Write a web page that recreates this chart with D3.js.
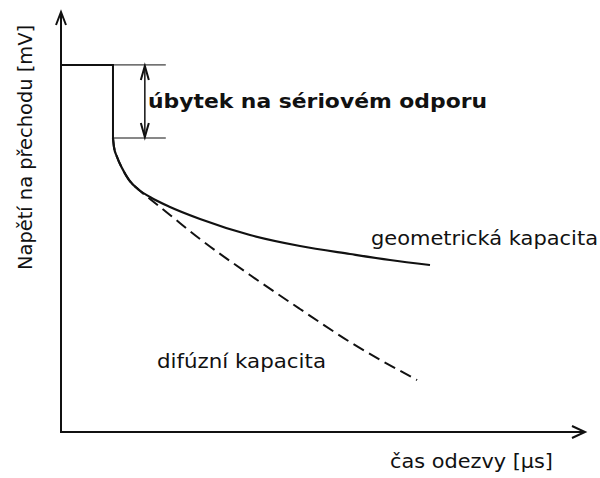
<!DOCTYPE html>
<html>
<head>
<meta charset="utf-8">
<style>
  body { margin: 0; background: #fff; }
  svg text { font-family: "DejaVu Sans", sans-serif; fill: #111; }
</style>
</head>
<body>
<div id="chart"></div>
<script src="https://d3js.org/d3.v7.min.js"></script>
<script>
// schematic units: time 0..100, voltage 0..100
const levelX = [0, 9.92];
const levelY = 87.4;
const dropY = 70;
const markEndX = 20;
const arrowX = 16;

const geomX = [9.92, 10.11, 10.69, 11.64, 12.98, 14.89, 16.98, 20.80, 26.53, 36.07, 45.61, 55.15, 62.79, 70.42];
const geomY = [70.0, 67.86, 65.48, 62.86, 60.0, 57.62, 55.95, 53.57, 50.71, 46.90, 44.29, 42.38, 40.95, 39.76];

const difX = [9.92, 10.11, 10.69, 11.64, 12.98, 14.89, 16.98, 20.80, 26.53, 36.07, 45.61, 55.15, 67.94];
const difY = [70.0, 67.86, 65.48, 62.86, 60.0, 57.62, 55.48, 51.67, 45.95, 37.38, 29.29, 21.43, 12.38];

const labels = {
  y: "Napětí na přechodu [mV]",
  x: "čas odezvy [µs]",
  drop: "úbytek na sériovém odporu",
  geom: "geometrická kapacita",
  dif: "difúzní kapacita"
};

const width = 600, height = 478;
const svg = d3.select("#chart").append("svg")
  .attr("width", width).attr("height", height);

const x = d3.scaleLinear().domain([0, 100]).range([61, 585]);
const y = d3.scaleLinear().domain([0, 100]).range([432, 12]);

const line = d3.line().x(d => x(d[0])).y(d => y(d[1])).curve(d3.curveMonotoneX);

// osy
svg.append("path")
  .attr("d", `M${x(0)},${y(100)} L${x(0)},${y(0)} L${x(100)},${y(0)}`)
  .attr("fill", "none").attr("stroke", "#111").attr("stroke-width", 2);

function arrowHead(px, py, dir, len, half) {
  let pts;
  if (dir === "up") pts = [[px - half, py + len], [px, py], [px + half, py + len]];
  else if (dir === "down") pts = [[px - half, py - len], [px, py], [px + half, py - len]];
  else pts = [[px - len, py - half], [px, py], [px - len, py + half]];
  svg.append("path")
    .attr("d", d3.line()(pts))
    .attr("fill", "none").attr("stroke", "#111").attr("stroke-width", 2);
}
arrowHead(x(0), y(100), "up", 13, 5);
arrowHead(x(100), y(0), "right", 13, 6);

// vodorovná úroveň a skok
svg.append("path")
  .attr("d", `M${x(levelX[0])},${y(levelY)} L${x(levelX[1])},${y(levelY)} L${x(levelX[1])},${y(dropY)}`)
  .attr("fill", "none").attr("stroke", "#111").attr("stroke-width", 2);

// tenké značky
[levelY, dropY].forEach(v => {
  svg.append("line")
    .attr("x1", x(levelX[1])).attr("x2", x(markEndX))
    .attr("y1", y(v)).attr("y2", y(v))
    .attr("stroke", "#111").attr("stroke-width", 1);
});

// dvojitá šipka
svg.append("line")
  .attr("x1", x(arrowX)).attr("x2", x(arrowX))
  .attr("y1", y(levelY) + 1).attr("y2", y(dropY) - 1)
  .attr("stroke", "#111").attr("stroke-width", 1.5);
arrowHead(x(arrowX), y(levelY) + 1, "up", 14, 4);
arrowHead(x(arrowX), y(dropY) - 1, "down", 14, 4);

// křivky
svg.append("path")
  .attr("d", line(difX.map((v, i) => [v, difY[i]])))
  .attr("fill", "none").attr("stroke", "#111").attr("stroke-width", 2)
  .attr("stroke-dasharray", "12,6");
svg.append("path")
  .attr("d", line(geomX.map((v, i) => [v, geomY[i]])))
  .attr("fill", "none").attr("stroke", "#111").attr("stroke-width", 2.2);

// popisky
function label(tx, ty, txt, len, bold) {
  return svg.append("text").attr("x", tx).attr("y", ty)
    .attr("textLength", len).attr("lengthAdjust", "spacingAndGlyphs")
    .style("font-size", "20px").style("font-weight", bold ? "bold" : "normal")
    .text(txt);
}
label(148, 108, labels.drop, 339, true);
label(371, 245, labels.geom, 227);
label(157, 368, labels.dif, 169);
label(390, 468, labels.x, 163);
svg.append("text")
  .attr("transform", "translate(32,270) rotate(-90)")
  .attr("textLength", 245).attr("lengthAdjust", "spacingAndGlyphs")
  .style("font-size", "20px").text(labels.y);
</script>
</body>
</html>
